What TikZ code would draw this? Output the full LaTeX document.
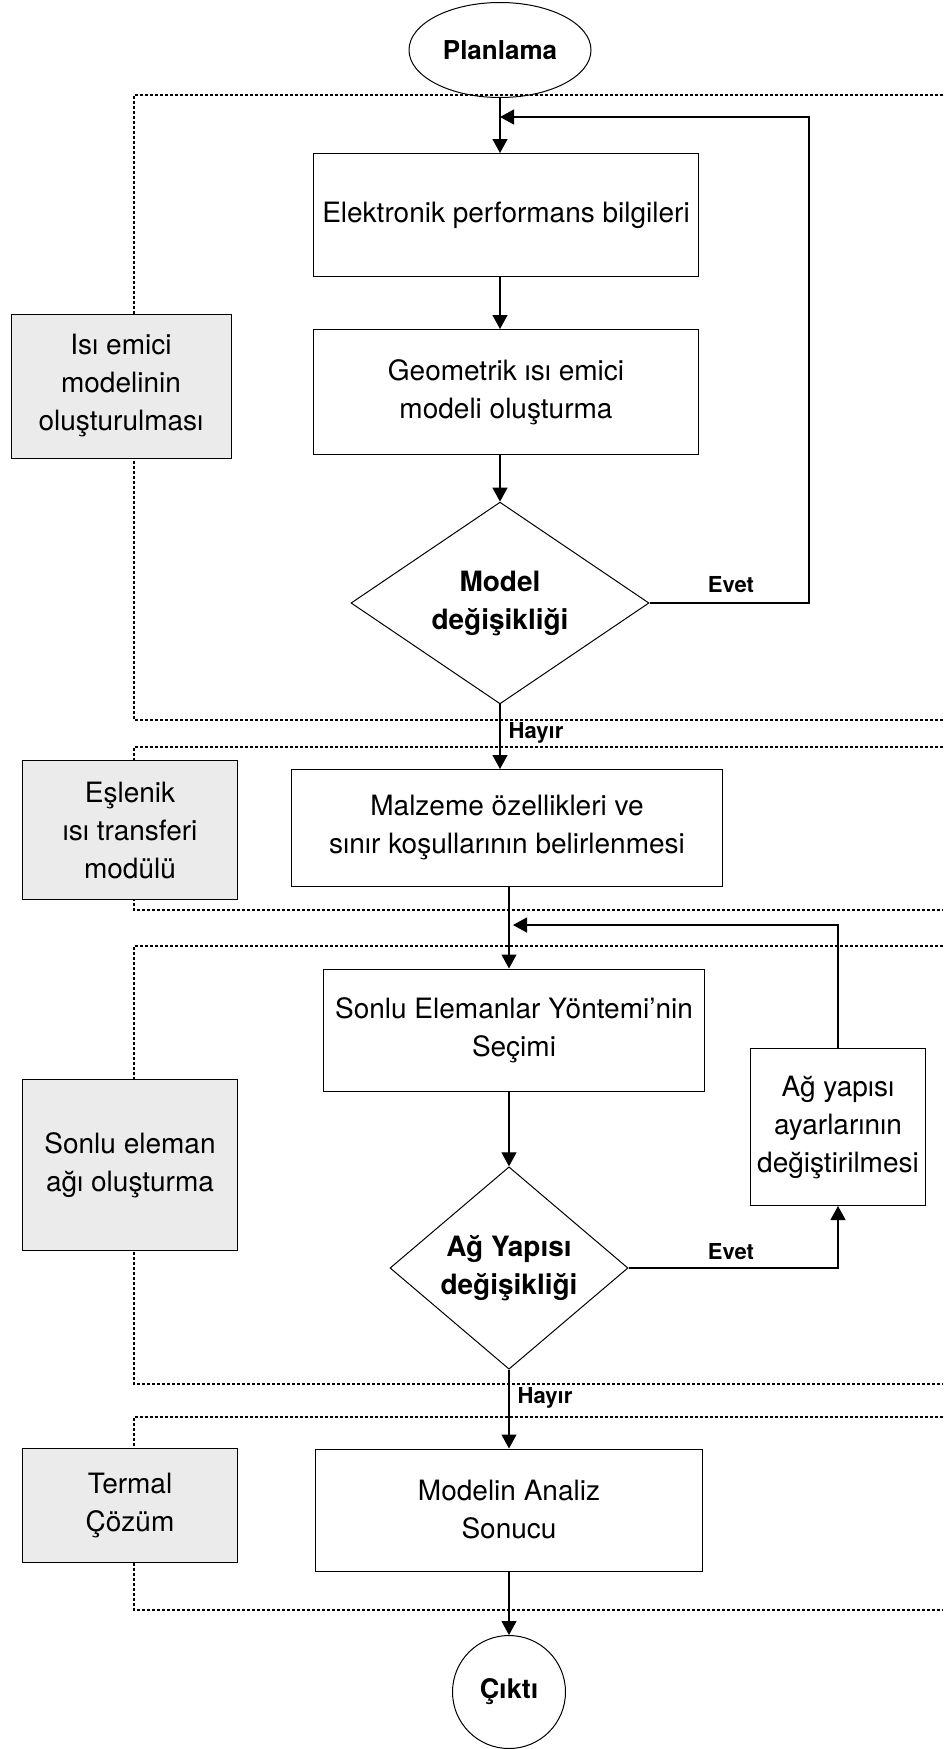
\documentclass[tikz,border=0pt]{standalone}
\usepackage{fontspec}
\setmainfont{TeX Gyre Heros}
\usetikzlibrary{shapes.geometric,arrows.meta}
\definecolor{yangri}{RGB}{235,235,235}

\begin{document}
\begin{tikzpicture}[x=1pt,y=-1pt,
    every node/.style={font=\fontsize{28}{38}\selectfont, align=center},
    kutu/.style={draw, line width=1pt, minimum width=385pt, minimum height=123pt},
    yankutu/.style={draw, line width=1pt, fill=yangri, minimum width=215pt},
    karar/.style={draw, diamond, line width=1pt, inner sep=0pt, font=\fontsize{28}{38}\selectfont\bfseries},
    etiket/.style={font=\fontsize{22}{26}\selectfont\bfseries},
    ok/.style={line width=1.2pt, -{Triangle[length=14pt,width=15pt]}},
    cerceve/.style={dash pattern=on 3pt off 2pt, line width=1.6pt}]
   \useasboundingbox (0,0) rectangle (943,1749);

   \draw[cerceve] (943,95) -- (134,95) -- (134,720) -- (943,720);
   \draw[cerceve] (943,747) -- (134,747) -- (134,910) -- (943,910);
   \draw[cerceve] (943,946) -- (134,946) -- (134,1384) -- (943,1384);
   \draw[cerceve] (943,1417) -- (134,1417) -- (134,1610) -- (943,1610);

   \node[draw, ellipse, line width=1pt, inner sep=0pt, minimum width=182pt, minimum height=95pt, font=\fontsize{26}{30}\selectfont\bfseries] (planlama) at (500,50) {Planlama};
   \node[kutu] (bilgi) at (506,215) {Elektronik performans bilgileri};
   \node[kutu, minimum height=125pt] (geometri) at (506,392) {Geometrik ısı emici\\modeli oluşturma};
   \node[karar, minimum width=298pt, minimum height=199pt] (model) at (500,603) {Model\\değişikliği};
   \node[kutu, minimum width=431pt, minimum height=117pt] (malzeme) at (507,828) {Malzeme özellikleri ve\\sınır koşullarının belirlenmesi};
   \node[kutu, minimum width=381pt, minimum height=122pt] (yontem) at (514,1030) {Sonlu Elemanlar Yöntemi’nin\\Seçimi};
   \node[karar, minimum width=238pt, minimum height=200pt] (ag) at (509,1268) {Ağ Yapısı\\değişikliği};
   \node[kutu, minimum width=175pt, minimum height=157pt] (ayar) at (838,1127) {Ağ yapısı\\ayarlarının\\değiştirilmesi};
   \node[kutu, minimum width=387pt, minimum height=122pt] (sonuc) at (509,1510) {Modelin Analiz\\Sonucu};
   \node[draw, circle, line width=1pt, inner sep=0pt, minimum size=113pt, font=\fontsize{27}{30}\selectfont\bfseries] (cikti) at (509,1692) {Çıktı};

   \node[yankutu, minimum width=220pt, minimum height=144pt] (isi) at (121,386) {Isı emici\\modelinin\\oluşturulması};
   \node[yankutu, minimum height=139pt] (eslenik) at (130,830) {Eşlenik\\ısı transferi\\modülü};
   \node[yankutu, minimum height=171pt] (sonlu) at (130,1165) {Sonlu eleman\\ağı oluşturma};
   \node[yankutu, minimum height=114pt] (termal) at (130,1505) {Termal\\Çözüm};

   \coordinate (donus1) at (500,117);
   \coordinate (donus2) at (513,925);

   \draw[ok] (planlama) -- (planlama |- bilgi.north);
   \draw[ok] (planlama |- bilgi.south) -- (planlama |- geometri.north);
   \draw[ok] (model |- geometri.south) -- (model.north);
   \draw[ok] (model.south) -- (model |- malzeme.north);
   \draw[ok] (model.east) -- (809,603) -- (809,117) -- (donus1);
   \draw[ok] (ag |- malzeme.south) -- (ag |- yontem.north);
   \draw[ok] (ag |- yontem.south) -- (ag.north);
   \draw[ok] (ag.south) -- (ag |- sonuc.north);
   \draw[ok] (ag.east) -- (ag.east -| ayar) -- (ayar.south);
   \draw[ok] (ayar.north) -- (ayar.north |- donus2) -- (donus2);
   \draw[ok] (sonuc.south) -- (cikti.north);

   \node[etiket] (evet1) at (731,585) {Evet};
   \node[etiket] (evet2) at (731,1252) {Evet};
   \node[etiket] (hayir1) at (536,733) {Hayır};
   \node[etiket] (hayir2) at (545,1398) {Hayır};
\end{tikzpicture}
\end{document}
